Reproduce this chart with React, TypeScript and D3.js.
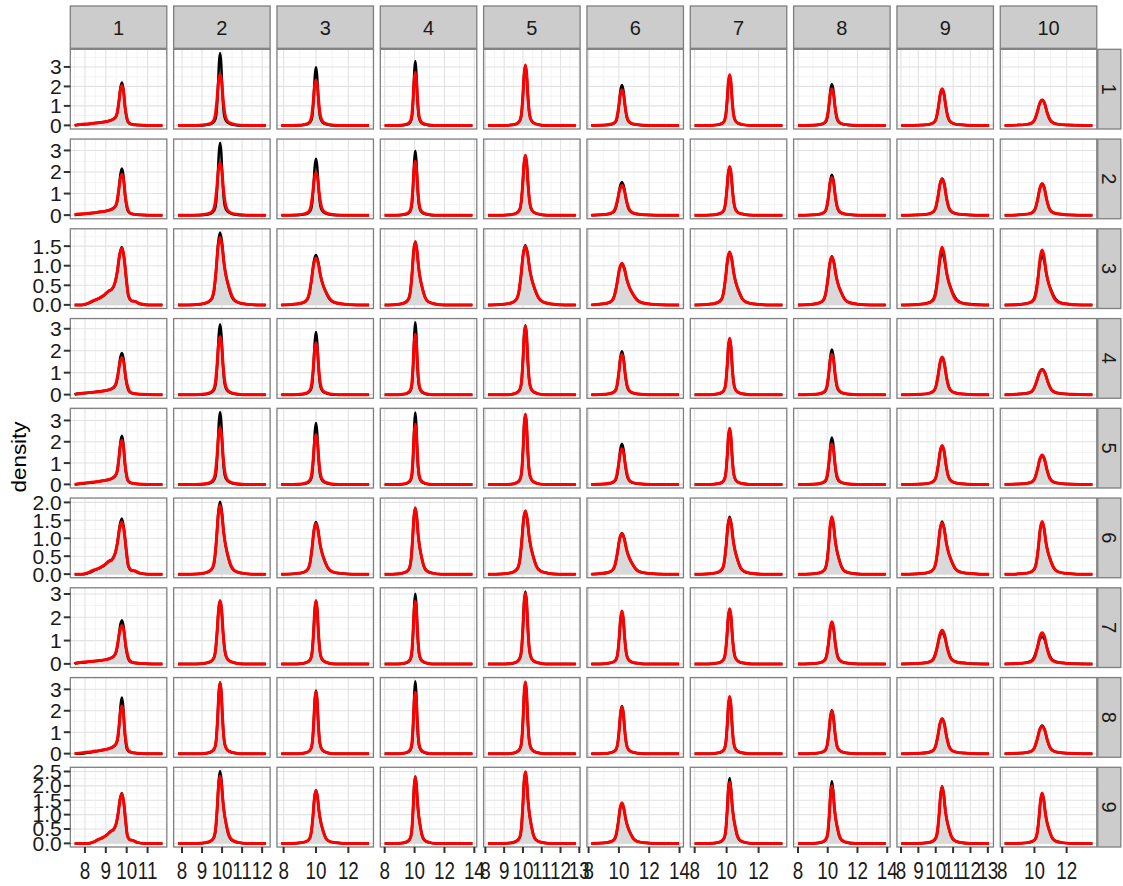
import React from 'react';
import * as d3 from 'd3';

// facet labels
const colLabels = ['1', '2', '3', '4', '5', '6', '7', '8', '9', '10'];
const rowLabels = ['1', '2', '3', '4', '5', '6', '7', '8', '9'];

// x data extent and peak location of each column (free x scales)
const xMin = [7.51, 7.8, 7.86, 8.0, 8.14, 8.18, 8.0, 8.0, 8.02, 8.15];
const xMax = [11.71, 12.18, 13.28, 13.87, 12.81, 13.97, 13.49, 13.9, 13.07, 13.6];
const peakX = [9.77, 9.9, 10.0, 10.05, 10.13, 10.2, 10.19, 10.28, 10.37, 10.48];

const xTicks = [
  [8, 9, 10, 11],
  [8, 9, 10, 11, 12],
  [8, 10, 12],
  [8, 10, 12, 14],
  [8, 9, 10, 11, 12, 13],
  [8, 10, 12, 14],
  [8, 10, 12],
  [8, 10, 12, 14],
  [8, 9, 10, 11, 12, 13],
  [8, 10, 12]
];

const yTicks = [
  [0, 1, 2, 3],
  [0, 1, 2, 3],
  [0, 0.5, 1, 1.5],
  [0, 1, 2, 3],
  [0, 1, 2, 3],
  [0, 0.5, 1, 1.5, 2],
  [0, 1, 2, 3],
  [0, 1, 2, 3],
  [0, 0.5, 1, 1.5, 2, 2.5]
];
const wideRows = [2, 5, 8];

// peak density of the black (filled) curve, row by row
const peakBlack = [
  [2.2, 3.72, 2.98, 3.3, 3.05, 2.07, 2.55, 2.13, 1.85, 1.3],
  [2.16, 3.36, 2.62, 2.99, 2.75, 1.52, 2.22, 1.87, 1.7, 1.45],
  [1.48, 1.85, 1.275, 1.6, 1.52, 1.05, 1.34, 1.24, 1.32, 1.26],
  [1.9, 3.2, 2.85, 3.3, 3.16, 1.98, 2.55, 2.05, 1.68, 1.16],
  [2.28, 3.4, 2.88, 3.37, 3.28, 1.91, 2.6, 2.2, 1.8, 1.33],
  [1.55, 2.02, 1.45, 1.83, 1.75, 1.15, 1.6, 1.57, 1.47, 1.45],
  [1.87, 2.7, 2.7, 3.01, 3.11, 2.25, 2.35, 1.74, 1.33, 1.16],
  [2.62, 3.33, 2.94, 3.38, 3.32, 2.22, 2.64, 2.02, 1.61, 1.31],
  [1.75, 2.52, 1.85, 2.33, 2.47, 1.38, 2.27, 2.16, 1.99, 1.73]
];

// peak density of the red curve
const peakRed = [
  [2.05, 2.63, 2.33, 2.72, 3.1, 1.83, 2.6, 1.88, 1.88, 1.3],
  [1.9, 2.43, 1.98, 2.5, 2.78, 1.37, 2.25, 1.75, 1.67, 1.45],
  [1.45, 1.72, 1.2, 1.62, 1.5, 1.06, 1.35, 1.22, 1.47, 1.4],
  [1.68, 2.64, 2.35, 2.75, 3.13, 1.83, 2.57, 1.83, 1.71, 1.13],
  [2.07, 2.66, 2.33, 2.82, 3.3, 1.67, 2.63, 1.9, 1.82, 1.38],
  [1.45, 1.91, 1.41, 1.85, 1.77, 1.13, 1.55, 1.6, 1.43, 1.47],
  [1.65, 2.72, 2.72, 2.69, 3.04, 2.27, 2.37, 1.81, 1.44, 1.34],
  [2.22, 3.3, 2.9, 2.87, 3.35, 2.19, 2.67, 1.98, 1.64, 1.27],
  [1.73, 2.34, 1.84, 2.32, 2.49, 1.41, 2.13, 2.0, 1.96, 1.75]
];

// curve shapes: [offset in half-widths, share of peak]
const sharpShape: [number, number][] = [
  [-8, 0], [-5, 0.01], [-3, 0.04], [-2, 0.1], [-1.5, 0.22], [-1, 0.5], [-0.5, 0.86],
  [0, 1], [0.5, 0.86], [1, 0.5], [1.5, 0.24], [2, 0.12], [3, 0.05], [5, 0.015], [8, 0]
];
const wideShape: [number, number][] = [
  [-8, 0], [-5, 0.01], [-3, 0.04], [-2, 0.1], [-1.5, 0.22], [-1, 0.5], [-0.5, 0.86],
  [0, 1], [0.5, 0.87], [1, 0.6], [1.5, 0.42], [2, 0.3], [2.5, 0.2], [3, 0.12], [4, 0.05],
  [6, 0.015], [9, 0]
];
const tailSharpShape: [number, number][] = [
  [-16, 0], [-13, 0.02], [-10, 0.04], [-8, 0.06], [-6, 0.08], [-4, 0.11], [-3, 0.14],
  [-2, 0.2], [-1.5, 0.3], [-1, 0.55], [-0.5, 0.87], [0, 1], [0.5, 0.85], [1, 0.45],
  [1.5, 0.2], [2, 0.08], [3, 0.03], [5, 0.01], [8, 0]
];
const tailWideShape: [number, number][] = [
  [-9, 0], [-7.5, 0.03], [-6.5, 0.07], [-5, 0.12], [-4, 0.17], [-3, 0.24], [-2.3, 0.27],
  [-1.5, 0.4], [-1, 0.6], [-0.5, 0.88], [0, 1], [0.5, 0.82], [1, 0.45], [1.5, 0.15],
  [2.2, 0.07], [3, 0.06], [4, 0.02], [6, 0]
];

const W = 1123;
const H = 886;
const left0 = 70.3;
const top0 = 49.3;
const pw = 96.5;
const ph = 79.7;
const colStep = 103.33;
const rowStep = 89.75;
const font = '"Liberation Sans", Arial, Helvetica, sans-serif';

const shapeArea = (s: [number, number][]) =>
  d3.sum(s.slice(1), (d, i) => ((d[0] - s[i][0]) * (d[1] + s[i][1])) / 2);

const densityPoints = (c: number, r: number, peak: number): [number, number][] => {
  const wide = wideRows.includes(r);
  const shape = c === 0 ? (wide ? tailWideShape : tailSharpShape) : wide ? wideShape : sharpShape;
  const hw = 1 / (peak * shapeArea(shape));
  const pts: [number, number][] = [[xMin[c], 0]];
  shape.forEach(([u, h]) => {
    const x = peakX[c] + u * hw;
    if (x > xMin[c] && x < xMax[c]) pts.push([x, peak * h]);
  });
  pts.push([xMax[c], 0]);
  return pts;
};

const minorOf = (ticks: number[], lo: number, hi: number) => {
  const step = ticks.length > 1 ? ticks[1] - ticks[0] : 1;
  const out: number[] = [];
  for (let t = ticks[0] - step * 3 + step / 2; t < hi; t += step) if (t > lo) out.push(t);
  return out;
};

const App = () => {
  const xScales = colLabels.map((_, c) => {
    const w = xMax[c] - xMin[c];
    return d3.scaleLinear().domain([xMin[c] - 0.05 * w, xMax[c] + 0.05 * w]).range([0, pw]);
  });
  const yScales = rowLabels.map((_, r) => {
    const m = Math.max(d3.max(peakBlack[r]) as number, d3.max(peakRed[r]) as number);
    return d3.scaleLinear().domain([-0.05 * m, 1.05 * m]).range([ph, 0]);
  });

  const panels: React.ReactNode[] = [];
  rowLabels.forEach((_, r) => {
    const y = yScales[r];
    const [y0, y1] = y.domain();
    const yMinor = minorOf(yTicks[r], y0, y1);
    colLabels.forEach((__, c) => {
      const x = xScales[c];
      const [x0, x1] = x.domain();
      const xMinor = minorOf(xTicks[c], x0, x1);
      const line = d3.line().x((d) => x(d[0])).y((d) => y(d[1])).curve(d3.curveMonotoneX);
      const area = d3
        .area()
        .x((d) => x(d[0]))
        .y0(y(0))
        .y1((d) => y(d[1]))
        .curve(d3.curveMonotoneX);
      const black = densityPoints(c, r, peakBlack[r][c]);
      const red = densityPoints(c, r, peakRed[r][c]);
      panels.push(
        <g key={`p${r}-${c}`} transform={`translate(${left0 + c * colStep},${top0 + r * rowStep})`}>
          <rect width={pw} height={ph} fill="#fff" />
          {xMinor.map((t) => (
            <line key={`xm${t}`} x1={x(t)} x2={x(t)} y1={0} y2={ph} stroke="#F3F3F3" strokeWidth={1} />
          ))}
          {yMinor.map((t) => (
            <line key={`ym${t}`} x1={0} x2={pw} y1={y(t)} y2={y(t)} stroke="#F3F3F3" strokeWidth={1} />
          ))}
          {xTicks[c].map((t) => (
            <line key={`xg${t}`} x1={x(t)} x2={x(t)} y1={0} y2={ph} stroke="#E2E2E2" strokeWidth={1.1} />
          ))}
          {yTicks[r].map((t) => (
            <line key={`yg${t}`} x1={0} x2={pw} y1={y(t)} y2={y(t)} stroke="#E2E2E2" strokeWidth={1.1} />
          ))}
          <path d={area(black) as string} fill="#D9D9D9" />
          <path d={line(black) as string} fill="none" stroke="#000" strokeWidth={2.5} strokeLinejoin="round" />
          <path d={line(red) as string} fill="none" stroke="#FF0000" strokeWidth={3} strokeLinejoin="round" />
          <rect width={pw} height={ph} fill="none" stroke="#7F7F7F" strokeWidth={1.3} />
          {c === 0 &&
            yTicks[r].map((t) => (
              <g key={`yt${t}`}>
                <line x1={-6.5} x2={0} y1={y(t)} y2={y(t)} stroke="#333" strokeWidth={2} />
                <text
                  x={-8.5}
                  y={y(t)}
                  textAnchor="end"
                  dominantBaseline="central"
                  fontSize={21}
                  fill="#1A1A1A"
                  fontFamily={font}
                >
                  {wideRows.includes(r) ? d3.format('.1f')(t) : d3.format('d')(t)}
                </text>
              </g>
            ))}
          {r === rowLabels.length - 1 &&
            xTicks[c].map((t) => (
              <g key={`xt${t}`}>
                <line x1={x(t)} x2={x(t)} y1={ph} y2={ph + 6} stroke="#333" strokeWidth={2} />
                <text
                  transform={`translate(${x(t)},${ph + 32}) scale(0.8,1)`}
                  textAnchor="middle"
                  fontSize={23.5}
                  fill="#1A1A1A"
                  fontFamily={font}
                >
                  {t}
                </text>
              </g>
            ))}
        </g>
      );
    });
  });

  return (
    <svg
      width={W}
      height={H}
      style={{ position: 'absolute', left: 0, top: 0, background: '#fff' }}
      fontFamily={font}
    >
      <rect width={W} height={H} fill="#fff" />
      {colLabels.map((l, c) => (
        <g key={`s${l}`} transform={`translate(${left0 + c * colStep},6)`}>
          <rect width={pw} height={42.3} fill="#CCCCCC" stroke="#7F7F7F" strokeWidth={1.3} />
          <text x={pw / 2} y={21.5} textAnchor="middle" dominantBaseline="central" fontSize={20} fill="#1A1A1A">
            {l}
          </text>
        </g>
      ))}
      {rowLabels.map((l, r) => (
        <g key={`rs${l}`} transform={`translate(1097.8,${top0 + r * rowStep})`}>
          <rect width={23} height={ph} fill="#CCCCCC" stroke="#7F7F7F" strokeWidth={1.3} />
          <text
            transform={`translate(11.5,${ph / 2}) rotate(90)`}
            textAnchor="middle"
            dominantBaseline="central"
            fontSize={20}
            fill="#1A1A1A"
          >
            {l}
          </text>
        </g>
      ))}
      {panels}
      <text
        transform="translate(19,457) rotate(-90) scale(1.12,1)"
        textAnchor="middle"
        dominantBaseline="central"
        fontSize={20}
        fill="#000"
      >
        density
      </text>
    </svg>
  );
};

export default App;
